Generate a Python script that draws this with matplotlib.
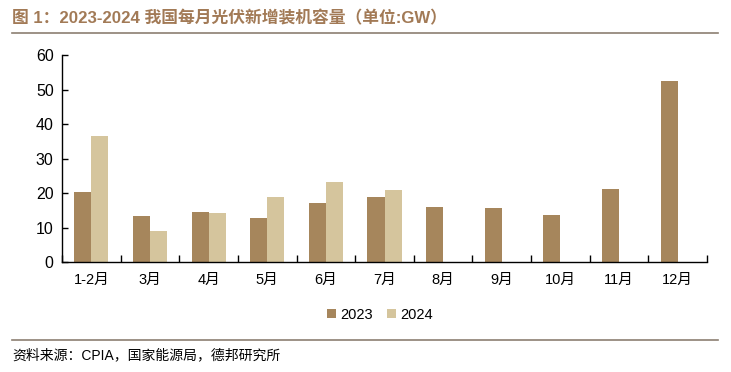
import matplotlib
matplotlib.use("Agg")
import matplotlib.pyplot as plt
import numpy as np
from matplotlib.lines import Line2D

plt.rcParams['font.family'] = ['Liberation Sans', 'Noto Sans CJK SC', 'DejaVu Sans']

categories = ['1-2月', '3月', '4月', '5月', '6月', '7月', '8月', '9月', '10月', '11月', '12月']
values_2023 = [20.4, 13.4, 14.6, 12.8, 17.2, 18.7, 16.0, 15.7, 13.7, 21.3, 52.5]
values_2024 = [36.6, 9.1, 14.3, 18.9, 23.3, 21.0, np.nan, np.nan, np.nan, np.nan, np.nan]
series_names = ['2023', '2024']
y_ticks = [0, 10, 20, 30, 40, 50, 60]

c2023 = '#A6865C'
c2024 = '#D5C59D'
brown = '#A27A56'
linec = '#8C7F72'

W, H = 731, 372
fig = plt.figure(figsize=(W / 100, H / 100), dpi=100)
ax = fig.add_axes([62 / W, 1 - 262 / H, (707 - 62) / W, (262 - 55) / H])

x = np.arange(len(categories))
bw = 0.29
ax.bar(x - bw / 2, values_2023, width=bw, color=c2023, label=series_names[0])
ax.bar(x + bw / 2, values_2024, width=bw, color=c2024, label=series_names[1])

ax.set_xlim(-0.5, len(categories) - 0.5)
ax.set_ylim(0, 60)
ax.set_yticks(y_ticks)
ax.set_xticks(x)
ax.set_xticklabels(categories, fontsize=10.5)
ax.set_xticks(np.arange(len(categories) + 1) - 0.5, minor=True)
ax.tick_params(axis='x', which='major', length=0, pad=8)
ax.tick_params(axis='x', which='minor', length=5, direction='in', width=1)
ax.tick_params(axis='y', length=4, direction='in', pad=6, width=1)
for t in ax.get_yticklabels():
    t.set_fontsize(11.5)
for s in ['top', 'right']:
    ax.spines[s].set_visible(False)
for s in ['left', 'bottom']:
    ax.spines[s].set_linewidth(1.0)
    ax.spines[s].set_color('black')

leg = fig.legend(loc='center', bbox_to_anchor=(380 / W, 1 - 315 / H), ncol=2, frameon=False,
                 fontsize=10.5, handlelength=0.6, handleheight=0.6, handletextpad=0.3,
                 columnspacing=1.0)

fig.text(12 / W, 1 - 18 / H, '图 1：2023-2024 我国每月光伏新增装机容量（单位:GW）',
         fontsize=12.1, fontweight='bold', color=brown, va='center', ha='left')
fig.add_artist(Line2D([12 / W, 718 / W], [1 - 32.5 / H, 1 - 32.5 / H], color=linec, lw=1.2))
fig.add_artist(Line2D([12 / W, 718 / W], [1 - 340 / H, 1 - 340 / H], color=linec, lw=1.2))
fig.text(12 / W, 1 - 355 / H, '资料来源：CPIA，国家能源局，德邦研究所',
         fontsize=10, color='black', va='center', ha='left')

fig.savefig('out.png', dpi=100)
